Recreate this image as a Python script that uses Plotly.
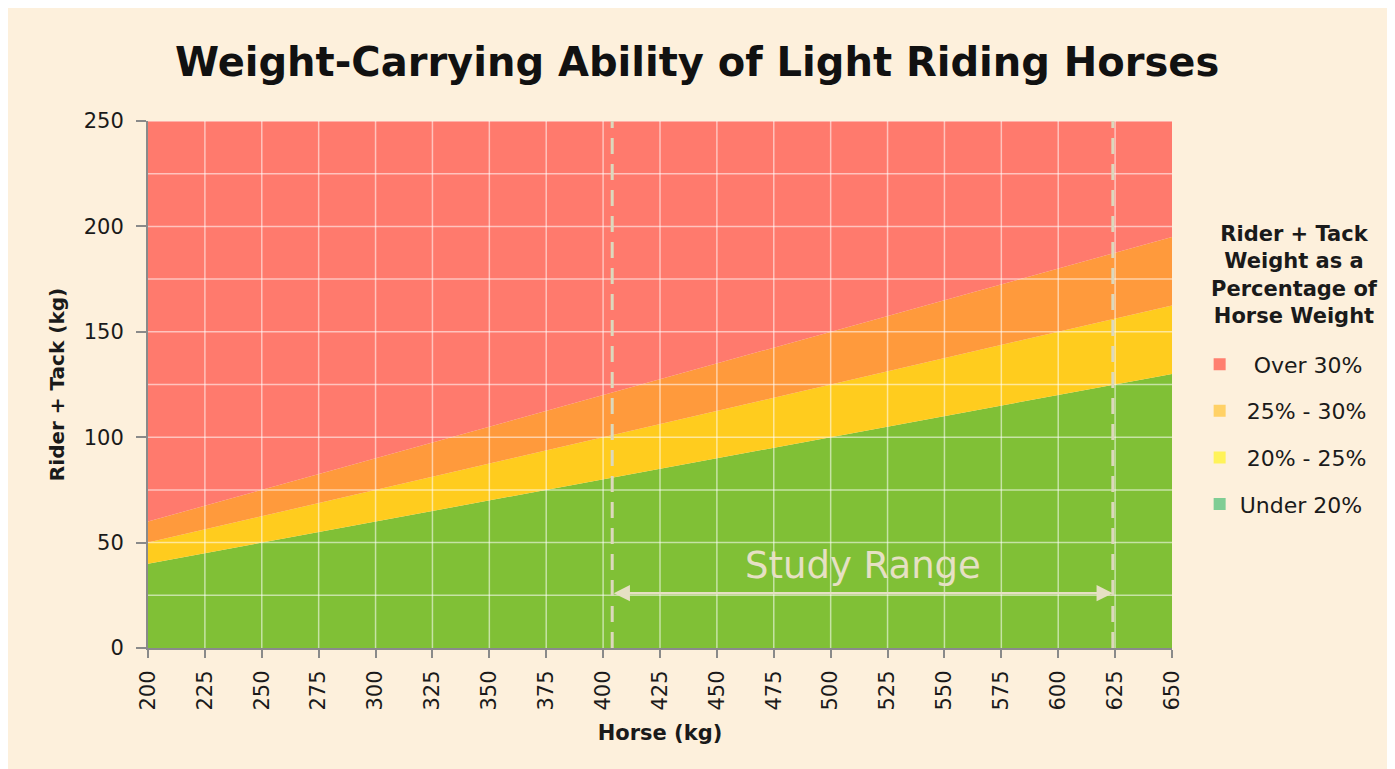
import plotly.graph_objects as go

# ---- data ----
horse_kg = [200, 650]
under_20 = [40, 130]        # 20% of horse weight
band_20_25 = [50, 162.5]    # 25% of horse weight
band_25_30 = [60, 195]      # 30% of horse weight
over_30 = [250, 250]        # top of chart
study_range = [404, 624]
arrow_y = 26
label_y = 39

series_names = ["Under 20%", "20% - 25%", "25% - 30%", "Over 30%"]
fill_colors = ["#80c036", "#ffcc1e", "#ff9a3c", "#ff7a6d"]
legend_colors = ["#7fcd94", "#fff35a", "#ffd166", "#ff7f6f"]
legend_labels = ["Under 20%", " 20% - 25%", " 25% - 30%", "  Over 30%"]

x_ticks = list(range(200, 651, 25))
y_ticks = list(range(0, 251, 50))
y_grid = list(range(0, 251, 25))

BG = "#fdf0dc"
FONT = "DejaVu Sans"
TXT = "#1a1a1a"

fig = go.Figure()

ys = [under_20, band_20_25, band_25_30, over_30]
for i, (yv, name, col) in enumerate(zip(ys, series_names, fill_colors)):
    fig.add_trace(go.Scatter(
        x=horse_kg, y=yv, name=name, mode="lines",
        line=dict(width=0, color=col),
        fill="tozeroy" if i == 0 else "tonexty",
        fillcolor=col, showlegend=False, hoverinfo="skip"))

# legend entries (top to bottom: Over 30%, 25-30, 20-25, Under 20)
for k in [3, 2, 1, 0]:
    fig.add_trace(go.Scatter(
        x=[None], y=[None], mode="markers", name=legend_labels[k],
        marker=dict(symbol="square", size=13, color=legend_colors[k]),
        legendgroup=series_names[k], showlegend=True))

# gridlines above the fills
grid_col = "rgba(255,255,255,0.55)"
for xv in x_ticks[1:-1]:
    fig.add_shape(type="line", x0=xv, x1=xv, y0=0, y1=250, xref="x", yref="y",
                  line=dict(color=grid_col, width=1.5), layer="above")
for yv in y_grid[1:]:
    fig.add_shape(type="line", x0=horse_kg[0], x1=horse_kg[-1], y0=yv, y1=yv,
                  xref="x", yref="y", line=dict(color=grid_col, width=1.5), layer="above")

# study range dashed lines
for xv in study_range:
    fig.add_shape(type="line", x0=xv, x1=xv, y0=0, y1=250, xref="x", yref="y",
                  line=dict(color="#dcd8bc", width=3, dash="16px,10px"), layer="above")

# double arrow
fig.add_annotation(x=study_range[1], y=arrow_y, ax=study_range[0], ay=arrow_y,
                   xref="x", yref="y", axref="x", ayref="y", text="",
                   showarrow=True, arrowhead=2, startarrowhead=2, arrowside="end+start",
                   arrowwidth=2.5, arrowsize=1.3, startarrowsize=1.3, arrowcolor="#e6e0c4")
fig.add_annotation(x=(study_range[0] + study_range[1]) / 2, y=label_y, xref="x", yref="y",
                   text="Study Range", showarrow=False,
                   font=dict(family=FONT, size=37, color="#e6e0c4"))

# legend heading
fig.add_annotation(x=1.12, y=0.812, xref="paper", yref="paper", xanchor="center", yanchor="top",
                   text="<b>Rider + Tack<br>Weight as a<br>Percentage of<br>Horse Weight</b>",
                   align="center", showarrow=False,
                   font=dict(family=FONT, size=21, color=TXT))

fig.update_layout(
    width=1395, height=769,
    paper_bgcolor=BG, plot_bgcolor=BG,
    margin=dict(l=140, r=231, t=113, b=129),
    title=dict(text="<b>Weight-Carrying Ability of Light Riding Horses</b>",
               x=0.494, xanchor="center", y=0.93, yanchor="middle",
               font=dict(family=FONT, size=40, color="#111")),
    font=dict(family=FONT, color=TXT),
    legend=dict(
        x=1.027, xanchor="left", y=0.578, yanchor="top",
        font=dict(family=FONT, size=22, color=TXT),
        bgcolor="rgba(0,0,0,0)", tracegroupgap=15, itemsizing="constant"),
    xaxis=dict(range=[200, 650], tickvals=x_ticks, tickangle=-90,
               showgrid=False, zeroline=False, showline=True, linecolor="#8a8a8a", linewidth=2,
               ticks="outside", ticklen=8, tickcolor="#8a8a8a", tickwidth=2,
               ticklabelstandoff=4,
               tickfont=dict(family=FONT, size=21, color=TXT),
               title=dict(text="<b>Horse (kg)</b>", font=dict(family=FONT, size=21, color=TXT),
                          standoff=16)),
    yaxis=dict(range=[0, 250], tickvals=y_ticks,
               showgrid=False, zeroline=False, showline=True, linecolor="#8a8a8a", linewidth=2,
               ticks="outside", ticklen=10, tickcolor="#8a8a8a", tickwidth=2,
               ticklabelstandoff=8,
               tickfont=dict(family=FONT, size=21, color=TXT),
               title=dict(text="<b>Rider + Tack (kg)</b>", font=dict(family=FONT, size=20, color=TXT),
                          standoff=14)),
)

fig.write_html("out.html")
